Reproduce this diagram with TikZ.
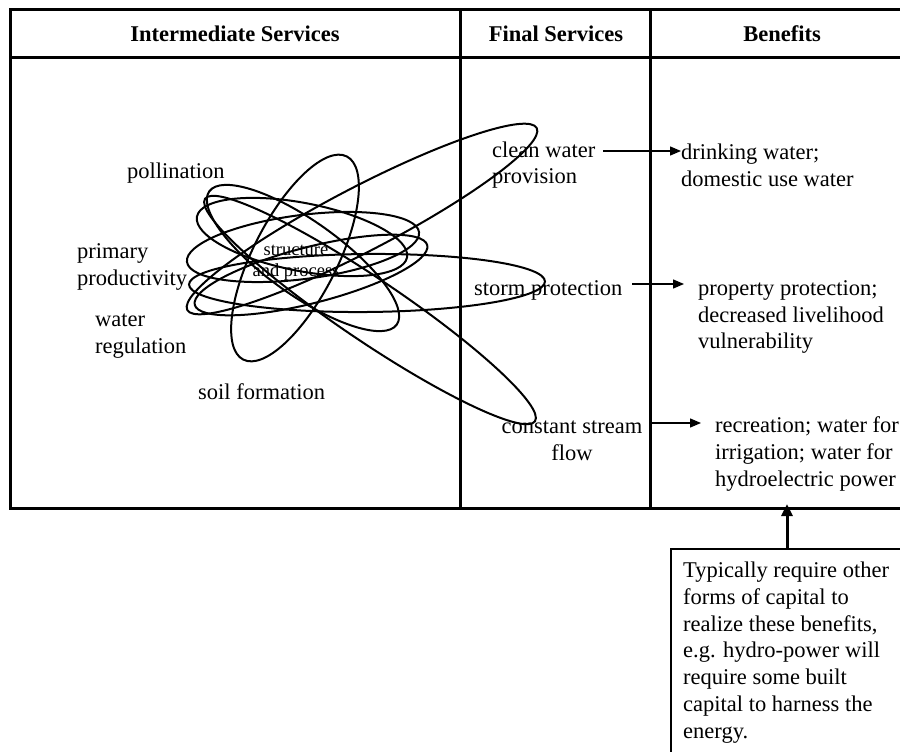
\documentclass[tikz,border=0pt]{standalone}
\usepackage{fontspec}
\setmainfont{Liberation Serif}
\usetikzlibrary{arrows.meta}
\newcommand{\fsmain}{\fontsize{22.5}{26.7}\selectfont}
\newcommand{\fssmall}{\fontsize{18.5}{21}\selectfont}
\tikzset{
  tbl/.style={line width=3pt},
  ell/.style={line width=2pt},
  lbl/.style={font=\fsmain, inner sep=0pt, align=left, anchor=west},
  hdr/.style={font=\fsmain\bfseries, inner sep=0pt},
  thinarrow/.style={line width=1.3pt, -{Triangle[length=11pt,width=9pt]}},
  thickarrow/.style={line width=3pt, -{Triangle[length=12pt,width=11pt]}},
}
\begin{document}
\begin{tikzpicture}[x=1pt,y=-1pt]
\useasboundingbox (0,0) rectangle (900,752);
\clip (0,0) rectangle (900,752);
\fill[white] (0,0) rectangle (900,752);
% table
\draw[tbl] (10,10) rectangle (916,508);
\draw[tbl] (10,58) -- (916,58);
\draw[tbl] (460,10) -- (460,508);
\draw[tbl] (650,10) -- (650,508);
% headers
\node[hdr] (h1) at (235,34) {Intermediate Services};
\node[hdr] (h2) at (556,34) {Final Services};
\node[hdr] (h3) at (782,34) {Benefits};
% ellipses
\draw[ell, rotate around={27.5:(362,219)}] (362,219) ellipse [x radius=197, y radius=32];
\draw[ell, rotate around={0.5:(367,283)}] (367,283) ellipse [x radius=178, y radius=29];
\draw[ell, rotate around={-34:(370,310)}] (370,310) ellipse [x radius=199, y radius=31];
\draw[ell, rotate around={63:(295,258)}] (295,258) ellipse [x radius=114, y radius=42];
\draw[ell, rotate around={-35.4:(303,258)}] (303,258) ellipse [x radius=115, y radius=37];
\draw[ell, rotate around={-11:(302,237)}] (302,237) ellipse [x radius=107, y radius=34];
\draw[ell, rotate around={7.3:(303,247)}] (303,247) ellipse [x radius=117, y radius=32];
\draw[ell, rotate around={14.4:(311,275)}] (311,275) ellipse [x radius=120, y radius=28];
% intermediate labels
\node[lbl] (poll) at (127,173) {pollination};
\node[lbl] (prim) at (77,267) {primary\\productivity};
\node[lbl] (wreg) at (95,336) {water\\regulation};
\node[lbl] (soil) at (198,392) {soil formation};
\node[font=\fssmall, inner sep=0pt, align=center] (sp) at (296,263) {structure\\and process};
% final services
\node[lbl] (clean) at (492,165) {clean water\\provision};
\node[lbl] (storm) at (474,290) {storm protection};
\node[font=\fsmain, inner sep=0pt, align=center] (stream) at (572,441) {constant stream\\flow};
% benefits
\node[lbl] (drink) at (681,165) {drinking water;\\domestic use water};
\node[lbl] (prop) at (698,317) {property protection;\\decreased livelihood\\vulnerability};
\node[lbl] (recr) at (715,454) {recreation; water for\\irrigation; water for\\hydroelectric power};
% arrows
\coordinate (c1) at (603,151);
\coordinate (c2) at (632,284);
\coordinate (c3) at (652,423);
\draw[thinarrow] (c1) -- (drink.west |- c1);
\draw[thinarrow] (c2) -- ([xshift=-14pt]prop.west |- c2);
\draw[thinarrow] (c3) -- ([xshift=-14pt]recr.west |- c3);
% caption box
\node[draw, line width=1.5pt, minimum width=280pt, minimum height=260pt, anchor=north west, inner sep=0pt] (capbox) at (670,548) {};
\node[font=\fsmain, inner sep=0pt, align=left, anchor=north west] (captext) at (683,562) {Typically require other\\forms of capital to\\realize these benefits,\\e.g. hydro-power will\\require some built\\capital to harness the\\energy.};
\coordinate (tblbot) at (787,504);
\draw[thickarrow] (capbox.north -| tblbot) -- (tblbot);
\end{tikzpicture}
\end{document}
